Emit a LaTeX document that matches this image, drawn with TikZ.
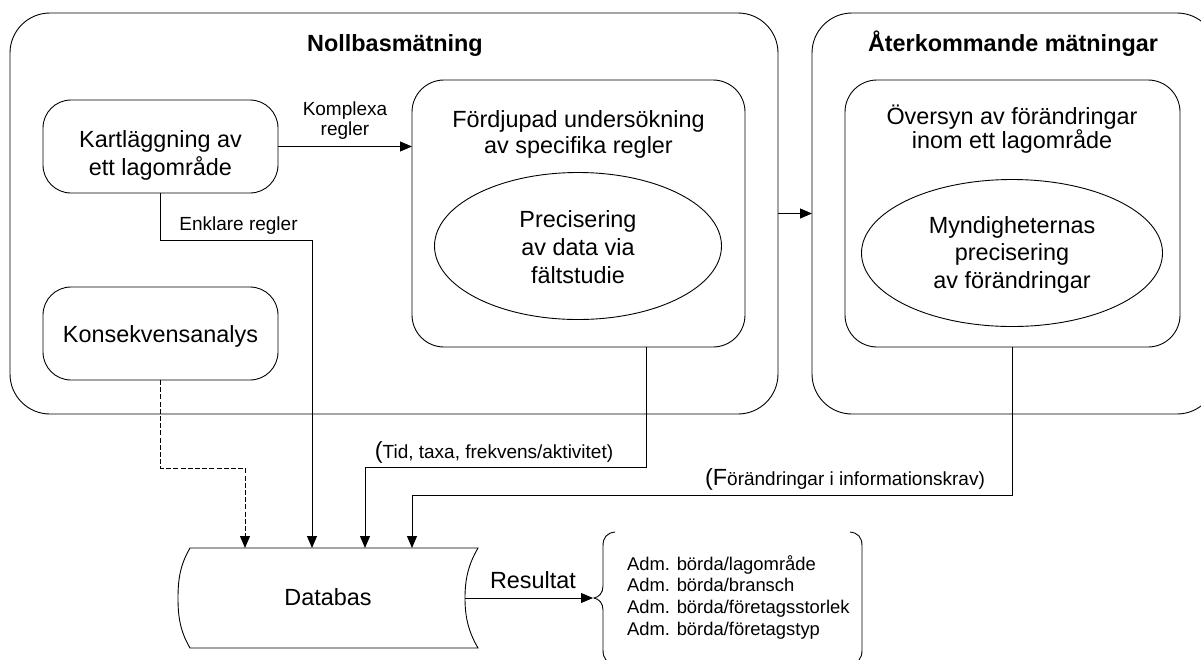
\documentclass[tikz,border=0pt]{standalone}
\usepackage{fontspec}
\setmainfont{Liberation Sans}
\usetikzlibrary{arrows.meta,shapes.geometric}

\begin{document}
\begin{tikzpicture}[x=1pt,y=-1pt,
  line width=0.9pt,
  every node/.style={inner sep=0pt, outer sep=0pt},
  frame/.style={draw, rounded corners=40pt},
  stepbox/.style={draw, rounded corners=#1},
  oval/.style={draw, ellipse},
  title/.style={font=\fontsize{23.4pt}{28pt}\selectfont\bfseries},
  big/.style={font=\fontsize{23.4pt}{#1}\selectfont, align=center},
  big/.default=28pt,
  small/.style={font=\fontsize{19pt}{20pt}\selectfont, align=center},
  listtext/.style={font=\fontsize{18.4pt}{21.7pt}\selectfont, align=left},
  arr/.style={-{Triangle[length=12pt,width=10pt]}},
  dashline/.style={dash pattern=on 5pt off 2.2pt}
]
\useasboundingbox (0,0) rectangle (1201,659);

% two phase frames
\node[frame, minimum width=768pt, minimum height=401pt] (nollbas) at (394,213.5) {};
\node[frame, minimum width=405pt, minimum height=401pt] (aterk) at (1014.5,213.5) {};
\node[title, anchor=base] (nollbasT) at (395,51) {Nollbasmätning};
\node[title, anchor=base] (aterkT) at (1013,51) {Återkommande mätningar};

% baseline measurement
\node[stepbox=28pt, minimum width=235pt, minimum height=93pt] (kart) at (160.5,146.5) {};
\node[big, anchor=north] (kartT) at (160.5,127.4) {\strut Kartläggning av\\ett lagområde};

\node[stepbox=28pt, minimum width=235pt, minimum height=93pt] (kons) at (160.5,333.5) {};
\node[big, anchor=base] (konsT) at (160.5,342) {Konsekvensanalys};

\node[stepbox=32pt, minimum width=333pt, minimum height=267pt] (ford) at (578.5,213.5) {};
\node[big=26pt, anchor=north] (fordT) at (578.5,108.8) {\strut Fördjupad undersökning\\av specifika regler};
\node[oval, minimum width=287pt, minimum height=147pt] (prec) at (578,246) {};
\node[big, anchor=north] (precT) at (578,207.4) {\strut Precisering\\av data via\\fältstudie};

\node[small, anchor=north] (komplT) at (345,101) {\strut Komplexa\\regler};
\node[small, anchor=base] (enklT) at (238.5,230) {Enklare regler};

% recurring measurements
\node[stepbox=32pt, minimum width=335pt, minimum height=267pt] (overs) at (1012.5,213.5) {};
\node[big=23pt, anchor=north] (oversT) at (1012,104.6) {Översyn av förändringar\\inom ett lagområde};
\node[oval, minimum width=301pt, minimum height=147pt] (mynd) at (1012,253) {};
\node[big=27.5pt, anchor=north] (myndT) at (1012,213.8) {\strut Myndigheternas\\precisering\\av förändringar};

% database and results
\node[minimum width=300pt, minimum height=100pt] (db) at (328,598) {};
\draw[shift={(db.center)}]
  (-138,-50) -- (150,-50)
  .. controls (140,-33) and (137,-18) .. (137,0)
  .. controls (137,18) and (140,33) .. (150,50)
  -- (-138,50)
  .. controls (-148,33) and (-150,18) .. (-150,0)
  .. controls (-150,-18) and (-148,-33) .. (-138,-50) -- cycle;
\node[big, anchor=base] (dbT) at (328,605) {Databas};
\node[big, anchor=base] (resT) at (533,588) {Resultat};

\coordinate (tip) at (594,598);
\node[listtext, anchor=north west] (list) at (627,554.8)
  {\strut Adm. börda/lagområde\\Adm. börda/bransch\\Adm. börda/företagsstorlek\\Adm. börda/företagstyp};
\draw (615,532) .. controls (607,533) and (603,537) .. (603,546) -- (603,586)
  .. controls (603,593) and (599,597) .. (tip)
  .. controls (599,599) and (603,603) .. (603,610) -- (603,650)
  .. controls (603,659) and (607,663) .. (615,664);
\draw (850,532) .. controls (858,533) and (862,537) .. (862,546) -- (862,650)
  .. controls (862,659) and (858,663) .. (850,664);

\node[small, anchor=base] (tidT) at (494,458)
  {{\fontsize{23.4pt}{24pt}\selectfont(}Tid, taxa, frekvens/aktivitet)};
\node[small, anchor=base] (frkT) at (845,485)
  {{\fontsize{23.4pt}{24pt}\selectfont(F}örändringar i informationskrav)};

% connectors
\draw[arr] (kart.east) -- (kart.east -| ford.west);
\draw[arr] (nollbas.east) -- (nollbas.east -| aterk.west);

\coordinate (enk) at (312,240);
\draw[arr] (kart.south) |- (enk) -- (enk |- db.north);

\coordinate (kon) at (245,468);
\draw[arr, dashline] (kons.south) |- (kon) -- (kon |- db.north);

\coordinate (tid) at (365,467);
\draw[arr] ([xshift=67.5pt]ford.south) |- (tid) -- (tid |- db.north);

\coordinate (frk) at (412,495);
\draw[arr] (overs.south) |- (frk) -- (frk |- db.north);

\draw[arr] ([xshift=-13pt]db.east) -- ([xshift=-1pt]tip);
\end{tikzpicture}
\end{document}
